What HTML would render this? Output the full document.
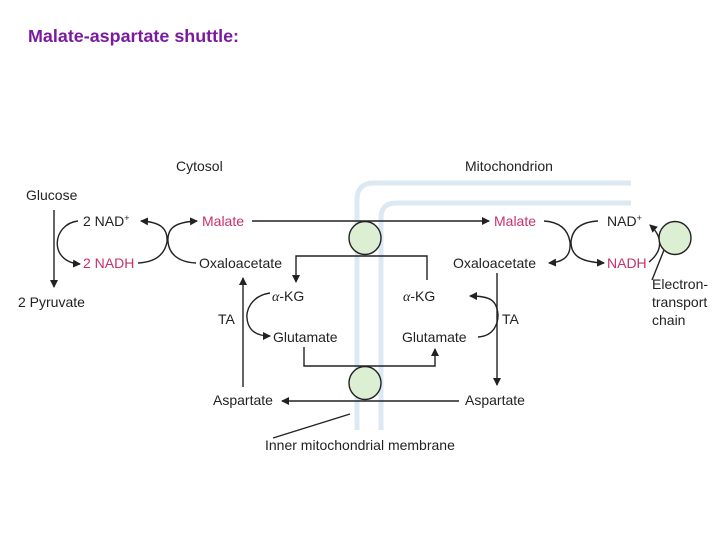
<!DOCTYPE html>
<html><head><meta charset="utf-8"><style>
html,body{margin:0;padding:0;background:#fff;width:720px;height:540px;overflow:hidden}
svg{display:block}
text{font-family:"Liberation Sans",sans-serif;font-size:14px;fill:#222}
.m{fill:#c8306e}
</style></head><body>
<svg width="720" height="540" viewBox="0 0 720 540">
<defs><marker id="a" markerWidth="8" markerHeight="8" refX="7" refY="4" orient="auto" markerUnits="userSpaceOnUse"><path d="M0,0 L8,4 L0,8 z" fill="#222"/></marker></defs>
<text x="28" y="42" textLength="211" lengthAdjust="spacingAndGlyphs" style="font-size:17.5px;font-weight:bold;fill:#7a1aa0">Malate-aspartate shuttle:</text>
<path d="M357,430 V200 Q357,183 374,183 H631" fill="none" stroke="#dce9f3" stroke-width="5"/>
<path d="M381,430 V218 Q381,203 396,203 H631" fill="none" stroke="#dce9f3" stroke-width="5"/>
<g stroke="#222" stroke-width="1.4" fill="none">
<path d="M252,221 H489" marker-end="url(#a)"/>
<path d="M427,280 V256 H296 V282" marker-end="url(#a)"/>
<path d="M304,347 V366 H435 V349" marker-end="url(#a)"/>
<path d="M459,401 H282" marker-end="url(#a)"/>
<path d="M243,387 V278" marker-end="url(#a)"/>
<path d="M497,273 V385" marker-end="url(#a)"/>
<path d="M54,210 V287" marker-end="url(#a)"/>
<path d="M78,221 C52,224 48,262 80,264" marker-end="url(#a)"/>
<path d="M138,263 C158,262 165,252 167,242 C168,228 160,222 141,221" marker-end="url(#a)"/>
<path d="M196,263 C176,262 169,252 168,242 C167,228 175,222 197,221" marker-end="url(#a)"/>
<path d="M270,293 C250,296 246,312 247,318 C248,330 256,336 270,336" marker-end="url(#a)"/>
<path d="M478,337 C495,336 498,322 498,315 C497,300 490,296 470,296" marker-end="url(#a)"/>
<path d="M544,221 C560,222 568,230 570,242 C571,254 566,262 549,263" marker-end="url(#a)"/>
<path d="M598,221 C580,222 572,230 571,242 C571,254 578,262 604,263" marker-end="url(#a)"/>
<path d="M649,262 C664,250 662,236 650,225" marker-end="url(#a)"/>
<path d="M664,250 L652,280"/>
<path d="M350,414 L273,438"/>
</g>
<g fill="#dcefd2" stroke="#222" stroke-width="1.4">
<ellipse cx="365" cy="238" rx="16" ry="16.5"/>
<ellipse cx="365" cy="383" rx="16" ry="16.5"/>
<ellipse cx="675" cy="238" rx="16" ry="16.5"/>
</g>
<text x="176" y="171">Cytosol</text>
<text x="465" y="171">Mitochondrion</text>
<text x="26" y="200">Glucose</text>
<text x="83" y="226">2 NAD<tspan dy="-5" style="font-size:9px">+</tspan></text>
<text x="83" y="268" class="m">2 NADH</text>
<text x="18" y="307">2 Pyruvate</text>
<text x="202" y="226" class="m">Malate</text>
<text x="199" y="268" textLength="83">Oxaloacetate</text>
<text x="272" y="301"><tspan font-style="italic" font-family="Liberation Serif">α</tspan>-KG</text>
<text x="218" y="324">TA</text>
<text x="273" y="342">Glutamate</text>
<text x="213" y="405">Aspartate</text>
<text x="265" y="450">Inner mitochondrial membrane</text>
<text x="494" y="226" class="m">Malate</text>
<text x="607" y="226">NAD<tspan dy="-5" style="font-size:9px">+</tspan></text>
<text x="453" y="268" textLength="83">Oxaloacetate</text>
<text x="607" y="268" class="m">NADH</text>
<text x="403" y="301"><tspan font-style="italic" font-family="Liberation Serif">α</tspan>-KG</text>
<text x="502" y="324">TA</text>
<text x="402" y="342">Glutamate</text>
<text x="465" y="405">Aspartate</text>
<text x="652" y="289">Electron-</text>
<text x="652" y="307">transport</text>
<text x="652" y="325">chain</text>
</svg>
</body></html>
